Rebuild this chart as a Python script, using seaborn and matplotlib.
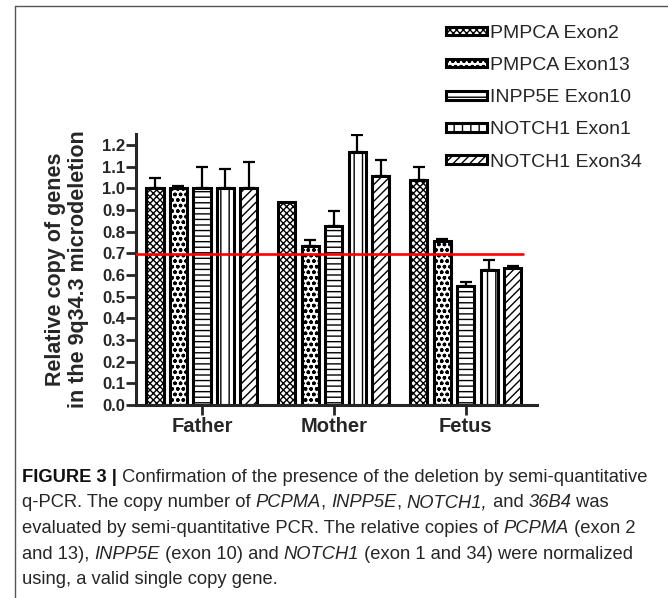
import numpy as np
import pandas as pd
import matplotlib
matplotlib.use("Agg")
import matplotlib.pyplot as plt
import seaborn as sns
from matplotlib.lines import Line2D
from matplotlib.patches import Patch

# ---------------- data ----------------
groups = ["Father", "Mother", "Fetus"]
series = ["PMPCA Exon2", "PMPCA Exon13", "INPP5E Exon10", "NOTCH1 Exon1", "NOTCH1 Exon34"]
father = [1.00, 1.00, 1.00, 1.00, 1.00]
mother = [0.935, 0.735, 0.825, 1.165, 1.055]
fetus = [1.04, 0.755, 0.548, 0.625, 0.630]
father_err = [0.045, 0.012, 0.10, 0.09, 0.12]
mother_err = [0.0, 0.025, 0.07, 0.08, 0.075]
fetus_err = [0.06, 0.01, 0.018, 0.045, 0.012]
threshold = 0.695
yticks = [0.0, 0.1, 0.2, 0.3, 0.4, 0.5, 0.6, 0.7, 0.8, 0.9, 1.0, 1.1, 1.2]
hatches = ["xxxxx", "ooo", "---", "||", "////"]
ylabel = "Relative copy of genes\nin the 9q34.3 microdeletion"

caption_lines = [
    [("FIGURE 3 |", "bold"), (" Confirmation of the presence of the deletion by semi-quantitative", "normal")],
    [("q-PCR. The copy number of ", "normal"), ("PCPMA", "italic"), (", ", "normal"), ("INPP5E", "italic"),
     (", ", "normal"), ("NOTCH1,", "italic"), (" and ", "normal"), ("36B4", "italic"), (" was", "normal")],
    [("evaluated by semi-quantitative PCR. The relative copies of ", "normal"), ("PCPMA", "italic"),
     (" (exon 2", "normal")],
    [("and 13), ", "normal"), ("INPP5E", "italic"), (" (exon 10) and ", "normal"), ("NOTCH1", "italic"),
     (" (exon 1 and 34) were normalized", "normal")],
    [("using, a valid single copy gene.", "normal")],
]

# ---------------- table ----------------
rows = []
for g, vals, errs in zip(groups, [father, mother, fetus], [father_err, mother_err, fetus_err]):
    for s, v, e in zip(series, vals, errs):
        rows.append({"group": g, "series": s, "value": v, "err": e})
df = pd.DataFrame(rows)

# ---------------- style ----------------
sns.set_style("ticks")
plt.rcParams["font.family"] = ["Liberation Sans", "DejaVu Sans"]
plt.rcParams["hatch.linewidth"] = 1.0

W, H = 668, 598
fig = plt.figure(figsize=(W / 100, H / 100), dpi=100)
ax = fig.add_axes([136 / W, 1 - 405 / H, (537 - 136) / W, (405 - 134) / H])

sns.barplot(data=df, x="group", y="value", hue="series", order=groups, hue_order=series,
            width=0.89, gap=0.27, errorbar=None, palette=["white"] * 5,
            edgecolor="black", linewidth=2.2, legend=False, ax=ax)

# hatches and error bars (seaborn draws bars series by series)
bars = list(ax.patches)
k = 0
for si, s in enumerate(series):
    sub = df[df["series"] == s]
    for gi, g in enumerate(groups):
        p = bars[k]
        p.set_hatch(hatches[si])
        p.set_facecolor("white")
        p.set_edgecolor("black")
        k += 1
        row = sub[sub["group"] == g].iloc[0]
        xc = p.get_x() + p.get_width() / 2
        if row["err"] > 0:
            ax.errorbar([xc], [row["value"]], yerr=[[0], [row["err"]]], fmt="none",
                        ecolor="black", elinewidth=1.6, capsize=4.0, capthick=1.6, zorder=1)

ax.axhline(threshold, xmin=0, xmax=0.964, color="red", lw=1.9, zorder=5)

ax.set_xlim(-0.5, 2.54)
ax.set_ylim(0, 1.25)
ax.set_yticks(yticks)
ax.set_yticklabels([f"{t:.1f}" for t in yticks])
sns.despine(ax=ax)
for sp in ["left", "bottom"]:
    ax.spines[sp].set_linewidth(2.2)
ax.tick_params(axis="y", length=7, width=2.0, pad=1, labelsize=12)
ax.tick_params(axis="x", length=7, width=2.0, pad=2, labelsize=14.5)
for lab in ax.get_yticklabels() + ax.get_xticklabels():
    lab.set_fontweight("bold")
ax.set_xlabel("")
ax.set_ylabel(ylabel, fontsize=15.5, fontweight="bold", labelpad=9, linespacing=1.15)

# legend
handles = [Patch(facecolor="white", edgecolor="black", linewidth=2.2, hatch=h) for h in hatches]
fig.legend(handles, series, loc="upper left", bbox_to_anchor=(446 / W, 1 - 25 / H),
           frameon=False, fontsize=14, handlelength=2.1, handleheight=0.3,
           handletextpad=0.15, labelspacing=0.78, borderaxespad=0, borderpad=0)

# frame lines
fig.add_artist(Line2D([15 / W, 15 / W], [0, 1 - 6 / H], transform=fig.transFigure, color="#555555", lw=1.0))
fig.add_artist(Line2D([15 / W, 1], [1 - 6 / H, 1 - 6 / H], transform=fig.transFigure, color="#555555", lw=1.0))

# caption
renderer = fig.canvas.get_renderer()
cap_family = ["Liberation Sans Narrow", "Liberation Sans", "DejaVu Sans"]


def run_props(style, size):
    d = dict(fontsize=size, family=cap_family, color="#262626")
    if style == "bold":
        d["fontweight"] = "bold"
        d["color"] = "#111111"
    elif style == "italic":
        d["fontstyle"] = "italic"
    return d


def run_width(txt, style, size):
    t1 = fig.text(0, 0, "|" + txt + "|", **run_props(style, size))
    t2 = fig.text(0, 0, "||", **run_props(style, size))
    w = t1.get_window_extent(renderer).width - t2.get_window_extent(renderer).width
    t1.remove()
    t2.remove()
    return w


size = 12.5
w1 = sum(run_width(t, s, size) for t, s in caption_lines[0])
size = size * (650 - 22) / w1

y0 = 477
for i, line in enumerate(caption_lines):
    x = 22
    y = y0 + i * 25.7
    for txt, style in line:
        fig.text(x / W, 1 - y / H, txt, va="center", ha="left", **run_props(style, size))
        x += run_width(txt, style, size)

fig.savefig("out.png", dpi=100)
